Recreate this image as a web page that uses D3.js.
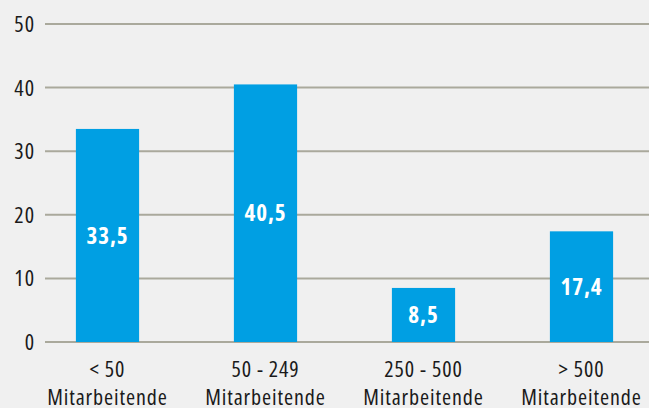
<!DOCTYPE html>
<html>
<head>
<meta charset="utf-8">
<script src="https://cdn.jsdelivr.net/npm/d3@7"></script>
<style>
  html, body { margin: 0; padding: 0; background: #f0f0f0; }
  svg { display: block; }
  text { font-family: "Open Sans", sans-serif; font-stretch: 75%; }
</style>
</head>
<body>
<svg id="chart"></svg>
<script>
const width = 649
const height = 408

// data
const categories = ["< 50", "50 - 249", "250 - 500", "> 500"]
const subLabel = "Mitarbeitende"
const values = [33.5, 40.5, 8.5, 17.4]
const labels = ["33,5", "40,5", "8,5", "17,4"]
const yTicks = [0, 10, 20, 30, 40, 50]

const svg = d3.select("#chart")
    .attr("width", width)
    .attr("height", height)

svg.append("rect")
    .attr("width", width)
    .attr("height", height)
    .attr("fill", "#f0f0f0")

const y = d3.scaleLinear()
    .domain([0, 50])
    .range([342, 24])

const x = d3.scaleBand()
    .domain(categories)
    .range([28.5, 660.5])
    .paddingInner(0.6)
    .paddingOuter(0.3)

// gridlines
svg.append("g")
    .selectAll("line")
    .data(yTicks)
    .enter().append("line")
    .attr("x1", 45)
    .attr("x2", width)
    .attr("y1", d => y(d))
    .attr("y2", d => y(d))
    .attr("stroke", "#aaa99c")
    .attr("stroke-width", 2)

// y tick labels
svg.append("g")
    .selectAll("text")
    .data(yTicks)
    .enter().append("text")
    .attr("x", 35)
    .attr("y", d => y(d))
    .attr("dy", "0.36em")
    .attr("text-anchor", "end")
    .attr("font-size", "22px")
    .attr("letter-spacing", "1px")
    .attr("fill", "#1a1a1a")
    .text(d => d)

// bars
svg.append("g")
    .selectAll("rect")
    .data(values)
    .enter().append("rect")
    .attr("x", (d, i) => x(categories[i]))
    .attr("width", x.bandwidth())
    .attr("y", d => y(d))
    .attr("height", d => y(0) - y(d))
    .attr("fill", "#009fe3")

// value labels in the middle of each bar
svg.append("g")
    .selectAll("text")
    .data(values)
    .enter().append("text")
    .attr("x", (d, i) => x(categories[i]) + x.bandwidth() / 2)
    .attr("y", d => (y(d) + y(0)) / 2)
    .attr("dy", "0.36em")
    .attr("text-anchor", "middle")
    .attr("font-size", "23px")
    .attr("font-weight", 700)
    .attr("letter-spacing", "1px")
    .attr("fill", "#ffffff")
    .text((d, i) => labels[i])

// category labels
const cat = svg.append("g")
    .selectAll("text")
    .data(categories)
    .enter().append("text")
    .attr("text-anchor", "middle")
    .attr("font-size", "22px")
    .attr("letter-spacing", "0.9px")
    .attr("fill", "#1a1a1a")

cat.append("tspan")
    .attr("x", d => x(d) + x.bandwidth() / 2)
    .attr("y", 377)
    .text(d => d)

cat.append("tspan")
    .attr("x", d => x(d) + x.bandwidth() / 2)
    .attr("y", 405)
    .text(subLabel)
</script>
</body>
</html>
